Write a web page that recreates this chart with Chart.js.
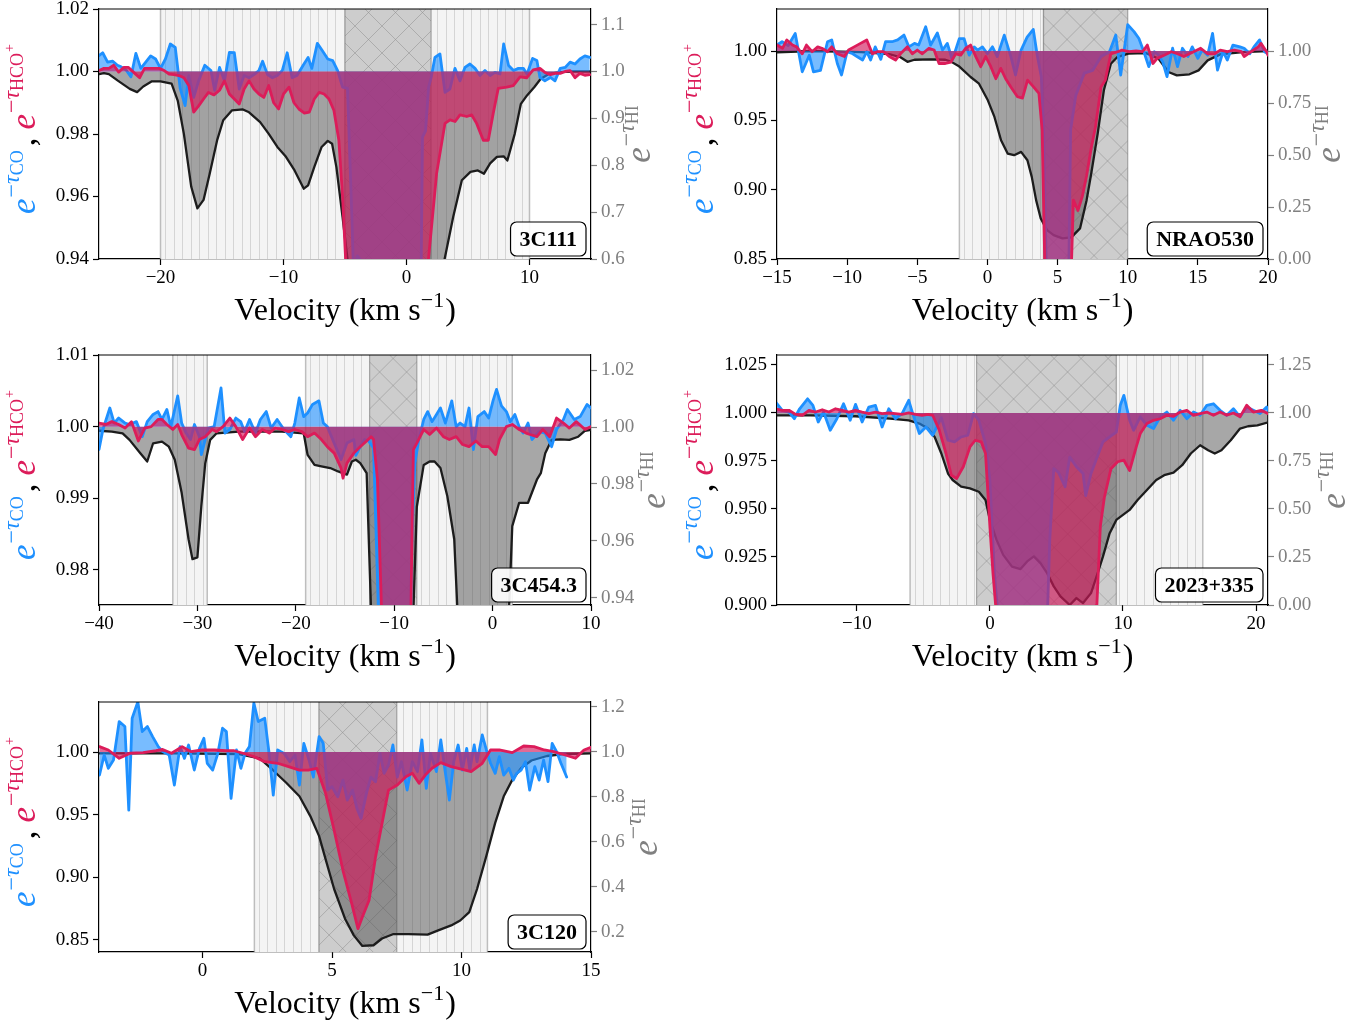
<!DOCTYPE html>
<html>
<head>
<meta charset="utf-8">
<script src="https://cdn.jsdelivr.net/npm/chart.js@4.4.0/dist/chart.umd.min.js"></script>
<style>
  html, body { margin: 0; padding: 0; background: #fff; overflow: hidden; }
  canvas { position: absolute; }
</style>
</head>
<body>
<canvas id="c1"></canvas>
<canvas id="c2"></canvas>
<canvas id="c3"></canvas>
<canvas id="c4"></canvas>
<canvas id="c5"></canvas>
<script>
// ---------- 3C111 ----------
const p1CoVel = [-25,-24.7,-24.3,-23.9,-23.5,-23.2,-22.8,-22.4,-22,-21.6,-21.2,-20.8,-20.4,-20,-19.6,-19.2,-18.8,-18.4,-18,-17.7,-17.3,-16.9,-16.4,-15.9,-15.6,-15.2,-14.8,-14.4,-14,-13.6,-13.2,-12.8,-12.4,-12,-11.7,-11.3,-10.9,-10.5,-10.1,-9.7,-9.3,-8.9,-8.4,-8,-7.7,-7.25,-6.85,-6.4,-6,-5.6,-5.2,-4.8,-4.5,-4.3,-4,-3.6,-3.3,-1,1,1.2,1.3,1.55,1.8,2,2.31,2.72,3.13,3.53,3.94,4.35,4.75,5.16,5.57,5.97,6.38,6.8,7.19,7.6,7.9,8.3,8.7,9.1,9.5,9.8,10.25,10.6,10.85,11.25,11.7,12.07,12.5,12.9,13.3,13.7,14.1,14.5,14.9];
const p1CoVal = [1.0051,1.006,1.003,1.0033,1.002,1.0015,1.0005,0.9983,1.0058,1.001,1.003,1.005,1.004,1.001,1.004,1.0088,1.0077,0.9946,0.9891,0.9987,0.9917,0.997,1.002,1.0003,0.994,1.0013,0.997,1.0061,1.006,0.9944,0.9987,0.998,0.999,1.0003,1.0033,0.999,0.998,0.9987,1.0003,1.006,0.998,0.9987,1.002,1.0045,1.001,1.009,1.0067,1.004,1.0035,1.0003,0.995,0.9946,0.96,0.935,0.941,0.939,0.9,0.88,0.9,0.94,0.979,0.981,0.995,0.998,1.0045,1.0056,0.9933,0.9944,1.001,0.997,1.0013,1.0024,1.001,0.9987,1.0003,0.9987,0.9997,0.9992,1.0088,1.0019,1.0003,1.001,1.001,0.9992,1.0042,1.0035,0.9981,0.997,0.9981,0.997,1.001,1.0013,1.003,1.0024,1.004,1.005,1.0045];
const p1HcoVel = [-25,-24.6,-24.2,-23.8,-23.4,-23,-22.6,-22.2,-21.7,-21.3,-20.9,-20.5,-20.1,-19.7,-19.3,-18.9,-18.5,-18.1,-17.7,-17.3,-16.9,-16.5,-16.1,-15.65,-15.2,-14.8,-14.4,-14,-13.6,-13.2,-12.8,-12.4,-12,-11.6,-11.2,-10.8,-10.4,-10,-9.55,-9.15,-8.75,-8.3,-7.9,-7.5,-7.1,-6.7,-6.3,-5.9,-5.5,-5.2,-4.95,-4.7,-2,0,1.5,1.78,2.45,3.13,3.54,3.95,4.35,4.9,5.3,5.7,6.24,6.65,7.05,7.46,8.14,8.68,9.23,9.77,10.3,10.85,11.25,11.7,12.07,12.5,12.9,13.3,13.7,14.1,14.5,14.9];
const p1HcoVal = [1.0003,1.001,1.001,1.002,0.9998,1.0013,1.0013,0.9998,0.998,1.001,1.001,1.001,1.001,1.0003,0.9992,0.999,0.9987,0.998,0.9955,0.987,0.989,0.9912,0.9933,0.9925,0.994,0.997,0.9928,0.9912,0.9896,0.9944,0.997,0.9944,0.9928,0.9917,0.9955,0.99,0.988,0.9928,0.995,0.99,0.988,0.9867,0.987,0.9912,0.9933,0.9928,0.9912,0.9875,0.978,0.96,0.94,0.9,0.88,0.88,0.9,0.9397,0.9674,0.9834,0.9845,0.984,0.9861,0.9856,0.9861,0.9834,0.978,0.978,0.9866,0.9946,0.995,0.9955,0.9983,0.998,1.0005,1.001,0.9997,0.999,0.9994,0.9994,1.0,1.0003,0.998,0.9994,0.9988,0.999];
const p1HiVel = [-25,-24.6,-24.2,-23.5,-22.5,-21.9,-21.4,-20.7,-20,-19.1,-18.6,-18.1,-17.5,-17,-16.5,-16,-15.4,-14.9,-14.2,-13.3,-12.8,-11.9,-11.2,-10.5,-9.8,-9.1,-8.35,-8,-7.5,-6.9,-6.4,-6.05,-5.7,-5.2,-4.8,-4.3,0,2.5,3.1,3.8,4.5,5.2,5.8,6.3,6.8,7.35,7.9,8.2,8.8,9.3,9.8,10.4,10.9,11.6,12.5,13.5,14.9];
const p1HiVal = [0.9943,0.9964,0.9943,0.981,0.963,0.956,0.968,0.979,0.979,0.974,0.938,0.867,0.754,0.708,0.726,0.782,0.853,0.896,0.917,0.919,0.913,0.892,0.867,0.839,0.818,0.789,0.75,0.757,0.796,0.839,0.852,0.846,0.796,0.69,0.6,0.4,0.3,0.4,0.6,0.69,0.768,0.786,0.789,0.782,0.804,0.818,0.819,0.81,0.867,0.931,0.949,0.967,0.984,0.995,0.9986,1.0,1.0];
const p1Light = [[-20, 10]];
const p1Cross = [[-5, 2]];

// ---------- NRAO530 ----------
const p2CoVel = [-15,-14.64,-14.2,-13.7,-13.2,-12.7,-12.4,-11.9,-11.4,-11.1,-10.7,-10.4,-10,-9.6,-9.3,-8.9,-8.6,-8.33,-8,-7.6,-7.26,-6.8,-6.4,-5.95,-5.6,-5.2,-4.9,-4.4,-4.05,-3.57,-3.2,-2.86,-2.5,-2,-1.67,-1.3,-0.95,-0.7,-0.36,0,0.36,0.7,1.2,1.67,2,2.4,2.83,3.27,3.55,3.84,4,4.2,5.8,5.93,6.3,6.9,7.5,8.1,8.7,9.15,9.5,10,10.45,10.8,11.2,11.5,11.9,12.2,12.5,12.8,13.2,13.55,13.9,14.3,14.6,15,15.3,15.7,16.05,16.4,16.8,17.1,17.5,18,18.3,18.7,19,19.4,19.75,20];
const p2CoVal = [1.0043,1.0067,1.004,1.0127,0.985,0.997,0.985,0.986,1.0067,1.008,0.991,0.9827,0.9995,0.998,0.996,0.9935,0.9995,0.9935,1.003,0.994,1.0067,1.0067,1.008,1.0115,1.003,1.0055,1.0043,1.0175,1.0043,1.013,1.0007,1.0055,0.9935,1.009,1.009,0.997,1.003,1.0007,1.003,0.998,1.003,0.996,1.0115,0.996,0.9827,1.0007,1.01,1.0156,0.997,0.9815,0.943,0.84,0.84,0.943,0.968,0.984,0.986,0.996,0.9995,1.0115,0.9827,1.019,1.014,1.009,0.998,0.9887,0.9995,0.997,0.992,0.9815,1.002,0.9887,1.002,0.996,1.003,0.9947,1.0007,0.997,1.0127,0.9863,0.9995,0.9935,1.0043,1.003,1.002,0.998,1.003,1.008,0.9995,0.998];
const p2HcoVel = [-15,-14.6,-14.3,-13.9,-13.6,-13.2,-12.9,-12.5,-12.1,-11.8,-11.4,-11.1,-10.7,-10.2,-9.9,-9.5,-9.05,-8.6,-8.2,-7.86,-7.4,-7,-6.55,-6.2,-5.7,-5.36,-5,-4.64,-4.17,-3.8,-3.45,-3,-2.6,-2.26,-1.9,-1.55,-1.2,-0.83,-0.48,-0.12,0.24,0.6,0.95,1.3,1.67,2.14,2.5,2.86,3.3,3.67,3.9,4.1,5.9,6,6.13,6.45,6.76,7.07,7.4,7.7,8.1,8.4,8.8,9.3,9.6,10.1,10.6,11.05,11.4,11.8,12.1,12.6,13.1,13.55,14,14.4,14.7,15.2,15.7,16.2,16.6,17.1,17.6,18.1,18.3,18.8,19.3,19.5,19.9,20];
const p2HcoVal = [1.0043,1.002,1.008,1.0043,1.003,0.998,1.0043,0.9995,1.003,1.002,0.9995,1.003,0.998,0.996,1.0007,1.003,1.0055,1.008,0.998,0.9995,0.9995,0.996,0.9935,0.998,1.003,0.998,1.0007,0.998,1.002,1.0007,0.991,0.991,0.992,0.998,0.997,1.002,1.0043,0.996,0.9887,0.996,0.9887,0.98,0.9875,0.98,0.974,0.967,0.966,0.979,0.974,0.9695,0.943,0.84,0.84,0.85,0.8925,0.885,0.895,0.91,0.93,0.945,0.974,0.979,0.998,0.9995,1.0007,0.9995,1.0,0.9995,1.0043,0.991,0.9947,0.997,0.9995,0.998,0.996,0.998,0.9995,1.002,0.998,0.998,1.0007,0.9995,1.0007,0.9995,0.996,0.9995,1.003,1.0055,0.9995,0.997];
const p2HiVel = [-15,-12.5,-9,-7,-6.2,-5.7,-5.2,-4,-3,-2.6,-2,-1.2,-0.6,0.03,0.5,0.97,1.44,1.9,2.4,2.85,3.16,3.47,3.8,4.25,4.72,5.35,5.98,6.6,7.07,7.4,7.86,8.3,8.8,9.26,10.05,11.3,12.2,12.9,13.5,14.4,15.05,15.7,16.6,18.2,20];
const p2HiVal = [0.994,1.0,0.995,0.985,0.97,0.948,0.958,0.96,0.958,0.949,0.925,0.875,0.843,0.763,0.683,0.571,0.507,0.499,0.515,0.475,0.395,0.283,0.195,0.139,0.115,0.099,0.104,0.147,0.283,0.411,0.603,0.811,0.939,0.971,0.987,0.99,0.963,0.899,0.883,0.888,0.907,0.955,0.984,0.995,1.0];
const p2Light = [[-2, 4]];
const p2Cross = [[4, 10]];

// ---------- 3C454.3 ----------
const p3CoVel = [-40,-39.6,-38.9,-38.45,-38,-37.35,-36.9,-36.2,-35.6,-35.1,-34.5,-34,-33.6,-33.1,-32.7,-32,-31.6,-31.15,-30.7,-30.3,-29.8,-29.6,-28.9,-28.3,-27.6,-27.2,-26.7,-26.1,-25.6,-25.2,-24.7,-24.1,-23.6,-23,-22.5,-21.9,-21.2,-20.5,-20.1,-19.65,-19.2,-18.8,-18.3,-17.65,-17.2,-16.8,-16.1,-15.4,-14.8,-14.1,-13.9,-13.45,-13,-12.6,-12.1,-11.4,-10,-8.5,-8.2,-7.9,-7.5,-7,-6.6,-6.15,-5.7,-5.3,-4.8,-4.15,-3.7,-3.3,-2.8,-2.4,-1.95,-1.5,-0.85,-0.4,0.04,0.4,0.9,1.4,1.8,2.26,2.7,3.1,3.6,4,4.7,5.35,6,6.5,7.2,7.6,8.3,8.9,9.6,10];
const p3CoVal = [0.9968,0.9996,1.0026,1.0005,1.0012,1.0005,1.0003,1.0007,0.9986,1.0007,1.0017,1.0021,1.001,1.0024,1.0,1.0043,1.0005,0.9991,0.9982,1.0003,0.9986,0.9961,0.9998,1.0,1.0054,0.9991,0.9996,1.0012,1.0007,0.9993,1.001,0.9991,1.001,1.0021,0.9998,1.001,0.9996,0.9986,1.0005,1.004,1.0014,1.0019,1.0031,1.0036,1.0005,1.0,0.9977,0.9954,0.9977,0.9982,0.996,0.9972,0.9982,0.998,0.997,0.965,0.96,0.96,0.985,0.9949,0.9982,1.001,1.0021,1.0007,1.0017,1.0026,1.0005,1.0036,1.0,1.0005,1.0,1.0026,0.9968,1.0014,1.0021,1.0012,1.0036,1.0052,1.0029,1.0021,1.0007,1.0017,1.0,0.9991,1.0005,0.9982,0.9993,0.9991,0.9972,0.9996,1.001,1.0024,1.001,1.0014,1.0031,1.0026];
const p3HcoVel = [-40,-39.3,-38.7,-38,-37.35,-36.7,-36,-35.35,-34.7,-34,-33.6,-33.1,-32.5,-32,-31.6,-30.9,-30.3,-29.8,-29.2,-28.5,-28.05,-27.4,-26.7,-26.1,-25.4,-24.7,-24.1,-23.4,-22.7,-22.1,-21.4,-20.75,-20.1,-19.4,-18.8,-18.1,-17.4,-16.8,-16.1,-15.4,-15.2,-14.8,-14.1,-13.45,-12.8,-12.35,-12.1,-11.7,-11.3,-11,-8.6,-8.3,-8.05,-7.7,-7,-6.4,-5.7,-5,-4.4,-3.7,-3.05,-2.4,-1.7,-1.06,-0.4,0.3,0.7,1.4,2,2.7,3.4,3.8,4.5,5.1,5.8,6.5,7.2,7.8,8.5,9.4,10];
const p3HcoVal = [1.0005,1.0003,1.0007,1.0003,0.9998,1.0007,0.998,0.9998,1.0,1.001,1.001,1.0003,0.9996,1.0003,0.9989,0.997,0.9968,0.9982,0.9986,0.9996,0.9993,1.0,1.0012,1.0,0.9982,0.9998,0.9986,0.9996,0.9991,0.9998,0.9996,0.9993,0.9996,0.9993,0.9986,0.9991,0.9982,0.9972,0.9963,0.9942,0.9928,0.9949,0.9963,0.9972,0.998,0.9986,0.9982,0.9926,0.975,0.96,0.96,0.975,0.9968,0.9977,0.9996,0.9989,0.9998,0.9986,0.9982,0.9986,0.9975,0.9972,0.998,0.9972,0.9972,0.9961,0.9982,1.0,1.0003,0.9996,0.9991,0.9989,0.9986,0.9996,0.9986,1.0012,1.0005,0.9998,1.0007,0.9996,1.0];
const p3HiVel = [-40,-38.7,-37.6,-36.9,-35.8,-35.1,-34.5,-33.6,-32.9,-32.3,-31.6,-30.9,-30.5,-30,-29.6,-29.2,-28.7,-28.05,-25.8,-21.4,-19.2,-18.8,-18.1,-17.4,-16.5,-15.7,-14.8,-14.3,-13.9,-13.45,-12.8,-12.3,-10,-8.1,-7.7,-7,-6.4,-5.9,-5.3,-4.6,-3.9,-3.5,0,1.6,2,2.7,3.6,4.5,4.9,5.35,6,6.9,7.8,8.7,9.4,10];
const p3HiVal = [0.9987,0.9984,0.9978,0.9955,0.9908,0.9879,0.9943,0.9949,0.9931,0.9885,0.9769,0.9606,0.9536,0.9542,0.9722,0.9873,0.9955,0.9978,0.9984,0.9984,0.9978,0.9902,0.9867,0.9862,0.9856,0.9844,0.9833,0.9879,0.9885,0.9873,0.9838,0.93,0.9,0.93,0.972,0.9867,0.9879,0.9879,0.9856,0.9757,0.9606,0.93,0.9,0.93,0.9652,0.9734,0.9734,0.9815,0.9838,0.9908,0.9955,0.9957,0.9955,0.9966,0.9987,0.999];
const p3Light = [[-32.5, -29], [-19, 2]];
const p3Cross = [[-12.5, -7.7]];

// ---------- 2023+335 ----------
const p4CoVel = [-16.1,-15.6,-15.1,-14.7,-14.3,-13.7,-13.3,-12.9,-12.5,-12,-11.5,-11,-10.5,-10.1,-9.6,-9.1,-8.6,-8.1,-7.6,-7.1,-6.6,-6.1,-5.8,-5.3,-4.8,-4.3,-3.65,-3.15,-2.66,-2.16,-1.66,-1.23,-0.83,-0.33,0,0.33,0.66,2,4.3,4.5,4.8,5.15,5.65,6,6.5,7,7.2,7.6,7.97,8.5,9,9.5,9.8,10.07,10.5,10.8,11.3,11.8,12.3,12.8,13.3,13.8,14.3,14.8,15.3,15.8,16.3,16.8,17.3,17.8,18.3,18.8,19.3,19.8,20.3,20.8,21];
const p4CoVal = [1.0057,1.0014,1.0005,0.997,1.0022,1.0074,1.004,0.9953,1.0005,0.991,0.997,1.0048,0.9962,1.0045,0.9953,1.0031,1.004,0.9927,1.0022,0.997,0.9997,1.0066,0.9997,0.9893,0.9927,0.9884,0.9976,0.9858,0.985,0.9875,0.9884,0.9997,0.9962,0.984,0.965,0.917,0.89,0.88,0.89,0.934,0.971,0.969,0.9616,0.977,0.972,0.9685,0.957,0.9685,0.9754,0.985,0.9875,0.99,1.004,1.0092,0.9962,0.991,0.998,0.9936,0.9919,0.998,1.0005,0.9962,1.0014,0.997,1.0005,0.9988,1.004,1.0048,1.0014,0.9988,1.0022,0.998,1.0031,1.0014,0.9997,1.0031,1.0005];
const p4HcoVel = [-16.1,-15.6,-15.1,-14.6,-14.1,-13.6,-13.1,-12.6,-12.1,-11.6,-11.1,-10.6,-10.1,-9.6,-9.1,-8.6,-8.1,-7.6,-7.1,-6.6,-6.1,-5.6,-5.1,-4.65,-4.3,-3.8,-3.3,-2.9,-2.5,-2,-1.5,-1.1,-0.66,-0.33,0,0.23,0.43,4,8.04,8.3,8.6,9.1,9.6,10.07,10.5,11,11.3,11.8,12.3,12.8,13.3,13.8,14.3,14.8,15.3,15.8,16.3,16.8,17.3,17.8,18.3,18.8,19.3,19.8,20.4,21];
const p4HcoVal = [1.0022,1.0014,1.0014,0.9993,0.9988,1.0014,1.0005,1.0017,1.0005,1.0022,1.0014,1.0005,1.0014,1.0005,0.9997,1.0005,0.9997,1.0,0.9997,0.9993,1.0,0.9993,0.9988,0.9993,0.9988,0.991,0.9789,0.9676,0.9659,0.972,0.9823,0.9858,0.985,0.9789,0.9408,0.9166,0.9,0.88,0.9,0.941,0.956,0.971,0.9746,0.9754,0.97,0.9823,0.9893,0.9945,0.9962,0.997,0.9988,0.9983,1.0005,1.0014,0.9988,0.9997,1.0005,0.9988,1.0005,0.9988,1.0,0.998,1.004,1.0005,1.0014,0.9993];
const p4HiVel = [-16.1,-13.5,-10.1,-7.5,-6.1,-5.3,-4.65,-4.15,-3.65,-3.15,-2.8,-2.16,-1.5,-0.83,-0.33,0,0.5,1,1.66,2.3,2.8,3.3,3.8,4.3,4.8,5.3,6,6.5,7,7.6,8.1,8.5,9,9.5,10,10.5,11.1,11.8,12.5,13.1,13.8,14.45,15.1,15.8,16.4,16.9,17.4,18.1,18.8,19.4,20.1,21];
const p4HiVal = [0.988,0.988,0.983,0.971,0.962,0.945,0.919,0.875,0.789,0.685,0.651,0.616,0.607,0.59,0.547,0.443,0.339,0.261,0.2,0.187,0.227,0.253,0.218,0.166,0.097,0.045,0.0,0.036,0.01,0.062,0.166,0.253,0.374,0.443,0.469,0.495,0.547,0.599,0.651,0.676,0.689,0.728,0.789,0.832,0.806,0.789,0.806,0.858,0.919,0.931,0.936,0.953];
const p4Light = [[-6, 16]];
const p4Cross = [[-1, 9.5]];

// ---------- 3C120 ----------
const p5CoVel = [-3.98,-3.8,-3.64,-3.44,-3.22,-3,-2.85,-2.72,-2.5,-2.33,-2.13,-1.93,-1.71,-1.54,-1.29,-1.09,-0.87,-0.7,-0.54,-0.32,-0.12,0.05,0.18,0.39,0.59,0.77,0.92,1.1,1.31,1.48,1.64,1.81,1.98,2.15,2.4,2.57,2.73,2.9,3.15,3.37,3.57,3.74,3.91,4.11,4.28,4.5,4.66,4.83,5,5.22,5.42,5.59,5.79,5.96,6.12,6.34,6.5,6.68,6.85,7.01,7.18,7.35,7.52,7.68,7.9,8.1,8.3,8.47,8.64,8.8,9.03,9.2,9.36,9.53,9.7,9.87,10.03,10.2,10.32,10.49,10.6,10.8,10.96,11.12,11.3,11.46,11.63,11.83,12,12.13,12.3,12.47,12.63,12.83,13,13.17,13.34,13.5,13.67,13.84,14.06];
const p5CoVal = [0.9816,0.9976,0.987,0.9936,1.0243,1.0203,0.9536,1.027,1.04,1.0163,1.0203,1.0123,1.0043,1.0003,0.9976,0.9736,1.0043,0.9949,1.0056,0.9856,1.0029,1.011,0.991,0.9856,0.9989,1.019,1.0163,0.963,1.0016,0.987,0.9989,1.0043,1.039,1.0243,1.027,0.9989,0.9656,1.0016,0.9989,0.9923,0.9976,0.9736,1.0069,0.9936,0.98,1.0123,1.0069,0.9696,0.9723,0.9643,0.9776,0.9616,0.9696,0.955,0.947,0.968,0.98,0.9763,0.9989,0.983,0.9896,1.0056,0.98,0.9923,0.9696,0.9923,0.9843,1.0096,0.971,0.9989,0.9843,1.0096,0.9856,0.9616,0.9923,1.0056,0.9856,1.0029,0.9856,1.0056,0.9923,1.0136,1.0016,0.991,0.983,0.9963,0.9816,0.987,0.9776,0.983,0.9856,0.9923,0.9696,0.9883,0.9776,0.9936,0.9763,1.0069,1.0003,0.991,0.98];
const p5HcoVel = [-3.98,-3.64,-3.22,-2.8,-2.3,-1.8,-1.54,-1.2,-0.79,-0.45,-0.03,0.47,0.9,1.22,1.56,1.98,2.4,2.9,3.32,3.74,4.08,4.41,4.75,5.08,5.42,5.76,6,6.17,6.43,6.68,6.93,7.18,7.52,7.85,8.1,8.36,8.6,8.86,9.2,9.6,10.03,10.37,10.8,11.12,11.46,11.96,12.4,12.8,13.2,13.56,14,14.4,14.73,15];
const p5HcoVal = [1.0043,1.0016,0.995,0.999,0.9995,1.001,1.002,0.999,1.0043,1.0003,1.0016,1.0016,1.001,1.001,0.999,0.9963,0.9923,0.991,0.9883,0.9856,0.9856,0.987,0.967,0.9376,0.9056,0.879,0.859,0.8683,0.8817,0.9163,0.943,0.9696,0.9736,0.9803,0.983,0.975,0.9816,0.987,0.9915,0.9883,0.9861,0.9843,0.991,1.0016,1.0016,0.9995,1.0048,1.0043,1.0016,1.0003,0.9976,0.995,1.0016,1.0037];
const p5HiVel = [-3.98,-1.1,1.4,2.2,2.7,3.24,3.74,4.16,4.5,4.75,5.08,5.5,5.84,6.17,6.6,6.93,7.35,7.94,8.69,9.1,9.6,9.95,10.3,10.6,10.96,11.3,11.63,11.96,12.3,12.7,13.3,14,15];
const p5HiVal = [0.994,0.994,0.99,0.972,0.921,0.862,0.803,0.715,0.626,0.524,0.391,0.259,0.185,0.138,0.141,0.171,0.19,0.19,0.188,0.207,0.229,0.251,0.288,0.391,0.538,0.685,0.803,0.876,0.928,0.962,0.982,0.991,0.994];
const p5Light = [[2, 11]];
const p5Cross = [[4.5, 7.5]];

const sourceNames = ['3C111', 'NRAO530', '3C454.3', '2023+335', '3C120'];

const BLUE = '#1e90ff';
const RED = '#dc1c5a';
const SERIF = '"Liberation Serif", "Times New Roman", serif';

// panel geometry (page pixels) and axis setup
const panels = [
  { id: 'c1', name: sourceNames[0], left: 0, top: 0, w: 680, h: 340, plot: { l: 99, r: 591, t: 9, b: 259 },
    xr: [-25, 15], xt: [-20, -10, 0, 10],
    yr: [0.94, 1.02], yt: [0.94, 0.96, 0.98, 1.00, 1.02], yd: 2,
    y2r: [0.6, 1.1333], y2t: [0.6, 0.7, 0.8, 0.9, 1.0, 1.1], y2d: 1, rOff: 59,
    co: [p1CoVel, p1CoVal], hco: [p1HcoVel, p1HcoVal], hi: [p1HiVel, p1HiVal], light: p1Light, cross: p1Cross },
  { id: 'c2', name: sourceNames[1], left: 680, top: 0, w: 689, h: 340, plot: { l: 97, r: 588, t: 9, b: 259 },
    xr: [-15, 20], xt: [-15, -10, -5, 0, 5, 10, 15, 20],
    yr: [0.85, 1.0303], yt: [0.85, 0.90, 0.95, 1.00], yd: 2,
    y2r: [0, 1.202], y2t: [0, 0.25, 0.5, 0.75, 1.0], y2d: 2, rOff: 72,
    co: [p2CoVel, p2CoVal], hco: [p2HcoVel, p2HcoVal], hi: [p2HiVel, p2HiVal], light: p2Light, cross: p2Cross },
  { id: 'c3', name: sourceNames[2], left: 0, top: 340, w: 680, h: 345, plot: { l: 99, r: 591, t: 15, b: 265 },
    xr: [-40, 10], xt: [-40, -30, -20, -10, 0, 10],
    yr: [0.9751, 1.01], yt: [0.98, 0.99, 1.00, 1.01], yd: 2,
    y2r: [0.9375, 1.0253], y2t: [0.94, 0.96, 0.98, 1.00, 1.02], y2d: 2, rOff: 74,
    co: [p3CoVel, p3CoVal], hco: [p3HcoVel, p3HcoVal], hi: [p3HiVel, p3HiVal], light: p3Light, cross: p3Cross },
  { id: 'c4', name: sourceNames[3], left: 680, top: 340, w: 689, h: 345, plot: { l: 97, r: 588, t: 15, b: 265 },
    xr: [-16, 20.9], xt: [-10, 0, 10, 20],
    yr: [0.9, 1.0302], yt: [0.9, 0.925, 0.95, 0.975, 1.0, 1.025], yd: 3,
    y2r: [0, 1.302], y2t: [0, 0.25, 0.5, 0.75, 1.0, 1.25], y2d: 2, rOff: 77,
    co: [p4CoVel, p4CoVal], hco: [p4HcoVel, p4HcoVal], hi: [p4HiVel, p4HiVal], light: p4Light, cross: p4Cross },
  { id: 'c5', name: sourceNames[4], left: 0, top: 685, w: 680, h: 338, plot: { l: 99, r: 591, t: 17, b: 267 },
    xr: [-4, 15], xt: [0, 5, 10, 15],
    yr: [0.8404, 1.0399], yt: [0.85, 0.90, 0.95, 1.00], yd: 2,
    y2r: [0.111, 1.222], y2t: [0.2, 0.4, 0.6, 0.8, 1.0, 1.2], y2d: 1, rOff: 66,
    co: [p5CoVel, p5CoVal], hco: [p5HcoVel, p5HcoVal], hi: [p5HiVel, p5HiVal], light: p5Light, cross: p5Cross },
];

function font(size, italic, bold) {
  return (italic ? 'italic ' : '') + (bold ? 'bold ' : '') + size + 'px ' + SERIF;
}

// draws a row of text pieces (base, superscripts, subscripts), optionally rotated
function drawRich(ctx, parts, cx, cy, rotate) {
  let total = 0;
  parts.forEach(pt => {
    ctx.font = font(pt.s, pt.it);
    pt.w = ctx.measureText(pt.t).width;
    total += pt.w + (pt.gap || 0);
  });
  ctx.save();
  ctx.translate(cx, cy);
  if (rotate) ctx.rotate(-Math.PI / 2);
  ctx.textAlign = 'left';
  ctx.textBaseline = 'alphabetic';
  let x = -total / 2;
  parts.forEach(pt => {
    ctx.font = font(pt.s, pt.it);
    ctx.fillStyle = pt.c || '#000';
    ctx.fillText(pt.t, x, pt.dy || 0);
    x += pt.w + (pt.gap || 0);
  });
  ctx.restore();
}

const leftTitle = [
  { t: 'e', s: 35, it: true, c: BLUE, gap: 1 },
  { t: '\u2212', s: 24, c: BLUE, dy: -16 },
  { t: '\u03c4', s: 24, it: true, c: BLUE, dy: -16 },
  { t: 'CO', s: 18, c: BLUE, dy: -12, gap: 4 },
  { t: ',', s: 35, c: '#000', gap: 8 },
  { t: 'e', s: 35, it: true, c: RED, gap: 1 },
  { t: '\u2212', s: 24, c: RED, dy: -16 },
  { t: '\u03c4', s: 24, it: true, c: RED, dy: -16 },
  { t: 'HCO', s: 18, c: RED, dy: -12, gap: 1 },
  { t: '+', s: 14, c: RED, dy: -21 },
];
const rightTitle = [
  { t: 'e', s: 35, it: true, c: '#808080', gap: 1 },
  { t: '\u2212', s: 24, c: '#808080', dy: -16 },
  { t: '\u03c4', s: 24, it: true, c: '#808080', dy: -16 },
  { t: 'HI', s: 18, c: '#808080', dy: -12 },
];
const xTitle = [
  { t: 'Velocity (km s', s: 32 },
  { t: '\u22121', s: 22, dy: -13, gap: 1 },
  { t: ')', s: 32 },
];

function decor(p) {
  return {
    id: 'decor',
    beforeDatasetsDraw(chart) {
      const { ctx, chartArea: a } = chart;
      const xs = chart.scales.x;
      const hgt = a.bottom - a.top;
      ctx.save();
      ctx.beginPath();
      ctx.rect(a.left, a.top, a.right - a.left, hgt);
      ctx.clip();
      // light vertical-hatched spans
      p.light.forEach(([v0, v1]) => {
        const x0 = xs.getPixelForValue(v0), x1 = xs.getPixelForValue(v1);
        ctx.fillStyle = '#f4f4f4';
        ctx.fillRect(x0, a.top, x1 - x0, hgt);
        ctx.strokeStyle = 'rgba(150,150,150,0.32)';
        ctx.lineWidth = 1;
        for (let x = x0 + 4.5; x < x1 - 2; x += 8.5) {
          ctx.beginPath(); ctx.moveTo(Math.round(x) + 0.5, a.top); ctx.lineTo(Math.round(x) + 0.5, a.bottom); ctx.stroke();
        }
        ctx.strokeStyle = 'rgba(140,140,140,0.55)';
        ctx.lineWidth = 1.5;
        [x0, x1].forEach(x => { ctx.beginPath(); ctx.moveTo(x, a.top); ctx.lineTo(x, a.bottom); ctx.stroke(); });
      });
      // darker cross-hatched spans
      p.cross.forEach(([v0, v1]) => {
        const x0 = xs.getPixelForValue(v0), x1 = xs.getPixelForValue(v1);
        ctx.fillStyle = '#cdcdcd';
        ctx.fillRect(x0, a.top, x1 - x0, hgt);
        ctx.save();
        ctx.beginPath(); ctx.rect(x0, a.top, x1 - x0, hgt); ctx.clip();
        ctx.strokeStyle = 'rgba(140,140,140,0.5)';
        ctx.lineWidth = 1;
        for (let c = x0 - hgt - 27; c < x1 + hgt; c += 27) {
          ctx.beginPath(); ctx.moveTo(c, a.top); ctx.lineTo(c + hgt, a.bottom); ctx.stroke();
          ctx.beginPath(); ctx.moveTo(c + hgt, a.top); ctx.lineTo(c, a.bottom); ctx.stroke();
        }
        ctx.restore();
        ctx.strokeStyle = 'rgba(120,120,120,0.6)';
        ctx.lineWidth = 1.2;
        [x0, x1].forEach(x => { ctx.beginPath(); ctx.moveTo(x, a.top); ctx.lineTo(x, a.bottom); ctx.stroke(); });
      });
      ctx.restore();
    },
    afterDraw(chart) {
      const { ctx, chartArea: a } = chart;
      ctx.save();
      // top spine
      ctx.strokeStyle = '#000';
      ctx.lineWidth = 1.2;
      ctx.beginPath(); ctx.moveTo(a.left, a.top); ctx.lineTo(a.right, a.top); ctx.stroke();

      // source name box
      ctx.font = font(22, false, true);
      const tw = ctx.measureText(p.name).width;
      const bw = tw + 18, bh = 34;
      const bx = a.right - 5 - bw, by = a.bottom - 3 - bh;
      ctx.beginPath();
      ctx.roundRect(bx, by, bw, bh, 6);
      ctx.fillStyle = 'rgba(255,255,255,0.9)';
      ctx.fill();
      ctx.lineWidth = 1.2;
      ctx.strokeStyle = '#000';
      ctx.stroke();
      ctx.fillStyle = '#000';
      ctx.textAlign = 'center';
      ctx.textBaseline = 'middle';
      ctx.fillText(p.name, bx + bw / 2, by + bh / 2 + 1);
      ctx.restore();

      const midY = (a.top + a.bottom) / 2;
      drawRich(ctx, leftTitle, a.left - 64, midY - 5, true);
      drawRich(ctx, rightTitle, a.right + p.rOff, midY, true);
      drawRich(ctx, xTitle, (a.left + a.right) / 2, a.bottom + 61, false);
    }
  };
}

function fmtX(v) {
  return v < 0 ? '\u2212' + Math.abs(v) : String(v);
}

function toPoints(vel, val) {
  const n = Math.min(vel.length, val.length);
  const out = [];
  for (let i = 0; i < n; i++) out.push({ x: vel[i], y: val[i] });
  return out;
}

function buildPanel(p) {
  const canvas = document.getElementById(p.id);
  canvas.width = p.w;
  canvas.height = p.h;
  canvas.style.left = p.left + 'px';
  canvas.style.top = p.top + 'px';
  const tickFont = { family: SERIF, size: 19, lineHeight: 1 };

  new Chart(canvas, {
    type: 'line',
    data: {
      datasets: [
        { label: 'HCO+', data: toPoints(p.hco[0], p.hco[1]), yAxisID: 'y', order: 1,
          borderColor: RED, backgroundColor: 'rgba(210,24,90,0.64)', borderWidth: 2.8, fill: { value: 1 } },
        { label: 'CO', data: toPoints(p.co[0], p.co[1]), yAxisID: 'y', order: 2,
          borderColor: BLUE, backgroundColor: 'rgba(30,144,255,0.6)', borderWidth: 2.8, fill: { value: 1 } },
        { label: 'HI', data: toPoints(p.hi[0], p.hi[1]), yAxisID: 'y2', order: 3,
          borderColor: '#1c1c1c', backgroundColor: 'rgba(80,80,80,0.5)', borderWidth: 2.3, fill: { value: 1 } },
      ]
    },
    options: {
      responsive: false,
      animation: false,
      devicePixelRatio: 1,
      events: [],
      layout: { padding: { top: p.plot.t, left: 0, right: 0, bottom: 0 } },
      elements: {
        point: { radius: 0 },
        line: { tension: 0, borderJoinStyle: 'round', borderCapStyle: 'round' }
      },
      plugins: { legend: { display: false }, tooltip: { enabled: false } },
      scales: {
        x: {
          type: 'linear', min: p.xr[0], max: p.xr[1],
          afterBuildTicks: s => { s.ticks = p.xt.map(v => ({ value: v })); },
          afterFit: s => { s.height = p.h - p.plot.b; s.paddingLeft = 0; s.paddingRight = 0; },
          ticks: { callback: fmtX, font: tickFont, color: '#000', padding: 4, maxRotation: 0, autoSkip: false },
          grid: { drawOnChartArea: false, drawTicks: true, tickLength: 6, tickColor: '#000', tickWidth: 1.2 },
          border: { display: true, color: '#000', width: 1.2 }
        },
        y: {
          position: 'left', min: p.yr[0], max: p.yr[1],
          afterBuildTicks: s => { s.ticks = p.yt.map(v => ({ value: v })); },
          afterFit: s => { s.width = p.plot.l; s.paddingTop = 0; s.paddingBottom = 0; },
          ticks: { callback: v => v.toFixed(p.yd), font: tickFont, color: '#000', padding: 4, autoSkip: false },
          grid: { drawOnChartArea: false, drawTicks: true, tickLength: 6, tickColor: '#000', tickWidth: 1.2 },
          border: { display: true, color: '#000', width: 1.2 }
        },
        y2: {
          position: 'right', min: p.y2r[0], max: p.y2r[1],
          afterBuildTicks: s => { s.ticks = p.y2t.map(v => ({ value: v })); },
          afterFit: s => { s.width = p.w - p.plot.r; s.paddingTop = 0; s.paddingBottom = 0; },
          ticks: { callback: v => v.toFixed(p.y2d), font: tickFont, color: '#808080', padding: 4, autoSkip: false },
          grid: { drawOnChartArea: false, drawTicks: true, tickLength: 6, tickColor: '#808080', tickWidth: 1.2 },
          border: { display: true, color: '#000', width: 1.2 }
        }
      }
    },
    plugins: [decor(p)]
  });
}

panels.forEach(buildPanel);
</script>
</body>
</html>
